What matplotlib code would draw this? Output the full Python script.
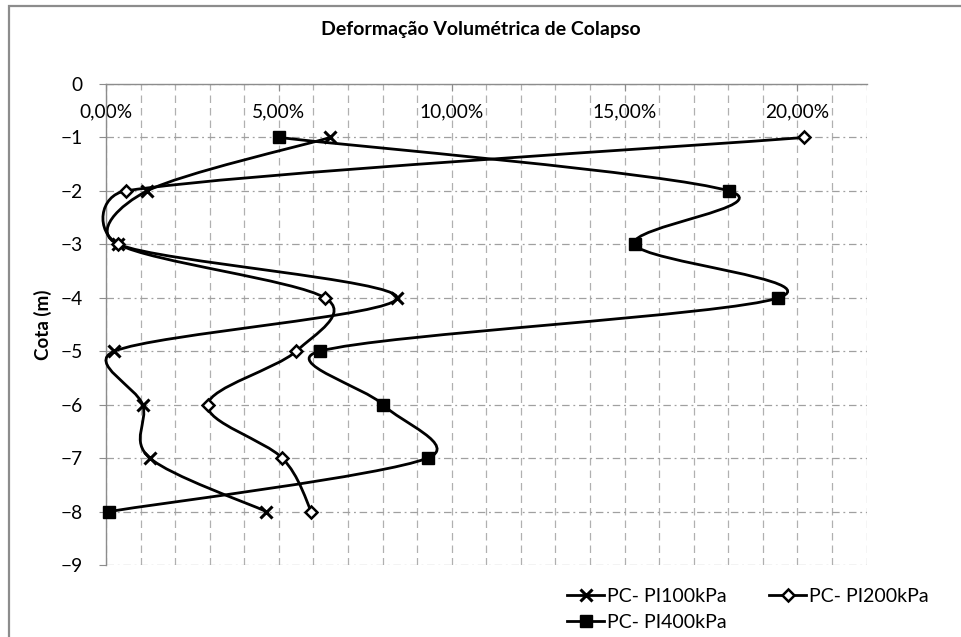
import numpy as np
import matplotlib
matplotlib.use("Agg")
import matplotlib.pyplot as plt
from matplotlib.path import Path
from matplotlib.patches import PathPatch, Rectangle
from matplotlib.ticker import FuncFormatter, MultipleLocator

plt.rcParams['font.family'] = ['Lato', 'DejaVu Sans']

# cotas (m)
cota = [-1, -2, -3, -4, -5, -6, -7, -8]

# deformacao volumetrica de colapso (fração)
pi100 = [0.0649, 0.0119, 0.0036, 0.0842, 0.0024, 0.0106, 0.0127, 0.0464]
pi200 = [0.2020, 0.0057, 0.0036, 0.0633, 0.0550, 0.0294, 0.0510, 0.0594]
pi400 = [0.0500, 0.1801, 0.1529, 0.1945, 0.0618, 0.0801, 0.0930, 0.0009]

labels = ['PC- PI100kPa', 'PC- PI200kPa', 'PC- PI400kPa']

XMAX = 0.22
YMIN = -9


def smooth_path(xs, ys, sx, sy):
    # curva suave tipo Excel: Bezier com tangentes limitadas,
    # calculada em pixels (sx, sy = pixels por unidade)
    p = np.column_stack([np.array(xs) * sx, np.array(ys) * sy])
    n = len(p)
    verts = [p[0]]
    codes = [Path.MOVETO]
    for i in range(n - 1):
        p1, p2 = p[i], p[i + 1]
        p0 = p[i - 1] if i > 0 else p1
        p3 = p[i + 2] if i + 2 < n else p2
        d12 = np.hypot(*(p2 - p1))
        d02 = np.hypot(*(p2 - p0))
        d13 = np.hypot(*(p3 - p1))
        f1 = 1 / 6
        if d02 / 6 > d12 / 2 and d02 > 0:
            f1 = d12 / (2 * d02)
        f2 = 1 / 6
        if d13 / 6 > d12 / 2 and d13 > 0:
            f2 = d12 / (2 * d13)
        c1 = p1 + f1 * (p2 - p0)
        c2 = p2 - f2 * (p3 - p1)
        verts += [c1, c2, p2]
        codes += [Path.CURVE4] * 3
    verts = np.array(verts) / np.array([sx, sy])
    return Path(verts, codes)


fig = plt.figure(figsize=(9.61, 6.37), dpi=100)
ax = fig.add_axes([0.1103, 0.1130, 0.7915, 0.7551])

# moldura do grafico
fig.patches.append(Rectangle((9 / 961, -0.05), 1.2, 1 - 6 / 637 + 0.05,
                             transform=fig.transFigure, fill=False,
                             edgecolor='#8c8c8c', linewidth=1.6))

ax_w = 0.7915 * 961
ax_h = 0.7551 * 637
sx = ax_w / XMAX
sy = ax_h / (-YMIN)

series = [
    (pi100, dict(marker='x', markersize=8.5, markeredgewidth=2.2,
                 color='black')),
    (pi200, dict(marker='D', markersize=6, markeredgewidth=1.8,
                 markerfacecolor='white', markeredgecolor='black',
                 color='black')),
    (pi400, dict(marker='s', markersize=9, color='black')),
]

handles = []
for (vals, style), lab in zip(series, labels):
    patch = PathPatch(smooth_path(vals, cota, sx, sy), facecolor='none',
                      edgecolor='black', linewidth=2.0, zorder=3,
                      clip_on=False)
    ax.add_patch(patch)
    ax.plot(vals, cota, linestyle='none', zorder=4, clip_on=False, **style)
    h, = ax.plot([], [], linestyle='-', linewidth=2.0, label=lab, **style)
    handles.append(h)

ax.set_xlim(0, XMAX)
ax.set_ylim(YMIN, 0)

ax.xaxis.set_major_locator(MultipleLocator(0.05))
ax.xaxis.set_minor_locator(MultipleLocator(0.01))
ax.xaxis.set_major_formatter(FuncFormatter(
    lambda v, pos: f"{v * 100:.2f}%".replace('.', ',')))
ax.yaxis.set_major_locator(MultipleLocator(1))

ax.xaxis.set_ticks_position('top')
ax.tick_params(axis='x', which='major', direction='in', length=5,
               color='#8c8c8c', pad=-26, labelsize=13.8)
ax.tick_params(axis='x', which='minor', length=0)
ax.tick_params(axis='y', direction='out', length=5, color='#8c8c8c',
               pad=12, labelsize=13.8)

for s in ['right', 'bottom']:
    ax.spines[s].set_visible(False)
for s in ['top', 'left']:
    ax.spines[s].set_color('#8c8c8c')
    ax.spines[s].set_linewidth(1.0)

ax.grid(True, axis='x', which='both', color='#b0b0b0', linewidth=0.9,
        linestyle=(0, (6, 4)))
ax.grid(True, axis='y', which='major', color='#a0a0a0', linewidth=0.9,
        linestyle=(0, (6, 3, 1.5, 3)))
ax.set_axisbelow(True)

ax.set_ylabel('Cota (m)', fontsize=13.5, fontweight='bold', labelpad=6)
fig.text(0.5, 0.953, 'Deformação Volumétrica de Colapso', ha='center',
         va='center', fontsize=14, fontweight='bold')

fig.legend([handles[0], handles[2], handles[1]],
           [labels[0], labels[2], labels[1]],
           ncol=2, loc='upper left', bbox_to_anchor=(0.580, 0.092),
           frameon=False, fontsize=14, handlelength=1.9, handletextpad=0.15,
           columnspacing=2.2, labelspacing=0.45, borderpad=0)

fig.savefig('out.png', dpi=100)
